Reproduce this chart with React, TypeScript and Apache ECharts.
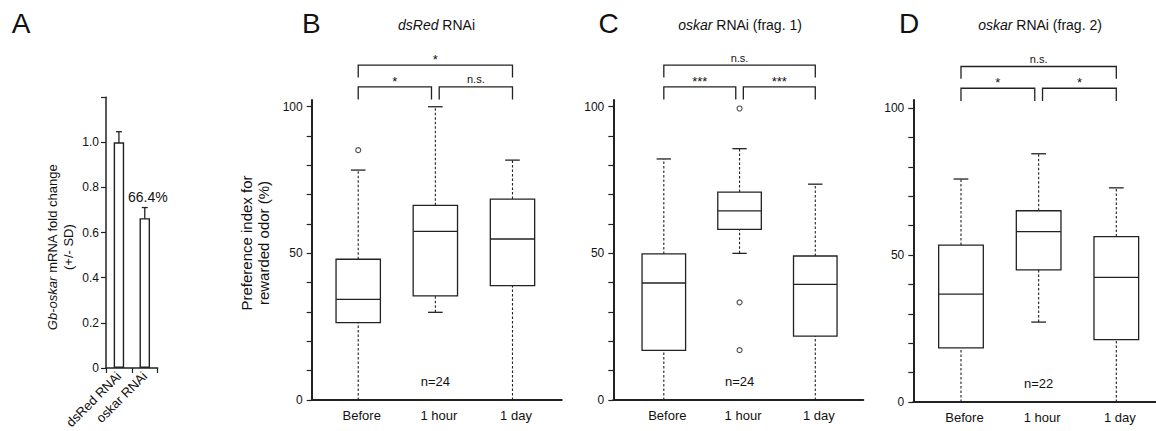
import React, { useEffect, useRef } from "react";
import * as echarts from "echarts";

const FONT = "'Liberation Sans', Arial, Helvetica, sans-serif";
const INK = "#111";
const LINE = "#222";

// Panel A
const barCategories = ["dsRed RNAi", "oskar RNAi"];
const barValues = [1.0, 0.664];
const barSD = [0.047, 0.047];

// Panels B-D
const timeCategories = ["Before", "1 hour", "1 day"];
// [low whisker, Q1, median, Q3, high whisker]
const boxB = [
  [0, 26.4, 34.3, 48.0, 78.4],
  [29.9, 35.5, 57.5, 66.4, 100],
  [0, 39.0, 54.9, 68.5, 81.8],
];
const outliersB = [[1, 85.2]];
const boxC = [
  [0, 16.9, 39.9, 49.8, 82.2],
  [50.0, 58.2, 64.5, 70.9, 85.7],
  [0, 21.8, 39.4, 49.1, 73.6],
];
const outliersC = [
  [2, 99.4],
  [2, 33.3],
  [2, 17.0],
];
const boxD = [
  [0, 18.4, 36.7, 53.4, 75.9],
  [27.2, 45.0, 58.0, 65.1, 84.5],
  [0, 21.2, 42.4, 56.3, 72.9],
];
const outliersD: number[][] = [];

// significance: [Before vs 1 hour, 1 hour vs 1 day, Before vs 1 day]
const sigB = ["*", "n.s.", "*"];
const sigC = ["***", "***", "n.s."];
const sigD = ["*", "*", "n.s."];
const nLabels = ["n=24", "n=24", "n=22"];

// bracket levels (in axis units): [horizontal, drop end]
const lowerBracket = [106.8, 102.5];
const upperBracket = [114.2, 110.0];
const nLabelLevel = 6.3;

const BOX_W = 0.575;
const CAP_W = 0.19;

function boxRender(params: any, api: any) {
  const x = api.value(0);
  const lo = api.value(1);
  const q1 = api.value(2);
  const md = api.value(3);
  const q3 = api.value(4);
  const hi = api.value(5);
  const w = api.size([BOX_W, 0])[0];
  const cw = api.size([CAP_W, 0])[0];
  const pLo = api.coord([x, lo]);
  const cx = pLo[0];
  const yLo = pLo[1];
  const yQ1 = api.coord([x, q1])[1];
  const yMd = api.coord([x, md])[1];
  const yQ3 = api.coord([x, q3])[1];
  const yHi = api.coord([x, hi])[1];
  const solid = { stroke: LINE, lineWidth: 1.3, fill: null };
  const dashed = { stroke: LINE, lineWidth: 1.1, lineDash: [2.5, 2], fill: null };
  return {
    type: "group",
    children: [
      { type: "line", shape: { x1: cx, y1: yLo, x2: cx, y2: yQ1 }, style: dashed },
      { type: "line", shape: { x1: cx, y1: yQ3, x2: cx, y2: yHi }, style: dashed },
      { type: "line", shape: { x1: cx - cw / 2, y1: yLo, x2: cx + cw / 2, y2: yLo }, style: solid },
      { type: "line", shape: { x1: cx - cw / 2, y1: yHi, x2: cx + cw / 2, y2: yHi }, style: solid },
      {
        type: "rect",
        shape: { x: cx - w / 2, y: yQ3, width: w, height: yQ1 - yQ3 },
        style: { stroke: LINE, lineWidth: 1.3, fill: "#fff" },
      },
      { type: "line", shape: { x1: cx - w / 2, y1: yMd, x2: cx + w / 2, y2: yMd }, style: solid },
    ],
  };
}

function bracketRender(labels: string[]) {
  return (params: any, api: any) => {
    const x1 = api.value(0);
    const x2 = api.value(1);
    const top = api.value(2);
    const drop = api.value(3);
    const a = api.coord([x1, drop]);
    const b = api.coord([x1, top]);
    const c = api.coord([x2, top]);
    const d = api.coord([x2, drop]);
    const txt = labels[params.dataIndex];
    const isStar = txt.indexOf("*") >= 0;
    return {
      type: "group",
      children: [
        {
          type: "polyline",
          shape: { points: [a, b, c, d] },
          style: { stroke: LINE, lineWidth: 1.3, fill: null },
        },
        {
          type: "text",
          x: (b[0] + c[0]) / 2,
          y: b[1] - (isStar ? -1 : 2),
          style: {
            text: txt,
            align: "center",
            verticalAlign: "bottom",
            textAlign: "center",
            textVerticalAlign: "bottom",
            fontSize: isStar ? 13 : 11,
            fontFamily: FONT,
            fill: INK,
          },
        },
      ],
    };
  };
}

function textRender(texts: string[]) {
  return (params: any, api: any) => {
    const p = api.coord([api.value(0), api.value(1)]);
    return {
      type: "text",
      x: p[0],
      y: p[1],
      style: {
        text: texts[params.dataIndex],
        align: "center",
        verticalAlign: "middle",
        textAlign: "center",
        textVerticalAlign: "middle",
        fontSize: 13,
        fontFamily: FONT,
        fill: INK,
      },
    };
  };
}

const GAP = 0.05;
function bracketData() {
  return [
    [1, 2 - GAP, lowerBracket[0], lowerBracket[1]],
    [2 + GAP, 3, lowerBracket[0], lowerBracket[1]],
    [1, 3, upperBracket[0], upperBracket[1]],
  ];
}

export default function App() {
  const ref = useRef<HTMLDivElement>(null);
  useEffect(() => {
    document.body.style.margin = "0";
    if (!ref.current) return;
    const chart = echarts.init(ref.current, undefined, { renderer: "svg" });

    const tickValues = [0, 10, 20, 30, 40, 50, 60, 70, 80, 90, 100];
    const yAxisBox = (gridIndex: number, max: number, name?: string) => ({
      type: "value",
      gridIndex,
      min: 0,
      max,
      splitLine: { show: false },
      axisLine: { show: true, lineStyle: { color: LINE, width: 2 } },
      axisTick: { show: true, length: 5, customValues: tickValues, lineStyle: { color: LINE, width: 1.2 } },
      axisLabel: {
        customValues: [0, 50, 100],
        margin: 9,
        fontSize: 12,
        fontFamily: FONT,
        color: INK,
      },
      name: name || "",
      nameLocation: "middle",
      nameRotate: 90,
      nameGap: 40,
      nameTextStyle: {
        fontSize: 15,
        fontFamily: FONT,
        color: INK,
        lineHeight: 17,
        padding: [0, 0, 0, 14],
      },
    });
    const xAxisBox = (gridIndex: number, min: number, max: number) => ({
      type: "value",
      gridIndex,
      min,
      max,
      splitLine: { show: false },
      axisLine: { show: true, onZero: false, lineStyle: { color: LINE, width: 2 } },
      axisTick: { show: false },
      axisLabel: {
        customValues: [1, 2, 3],
        formatter: (v: number) => timeCategories[Math.round(v) - 1] || "",
        margin: 9,
        fontSize: 13,
        fontFamily: FONT,
        color: INK,
        padding: [0, 0, 0, 7],
      },
    });

    const boxSeries = (idx: number, data: number[][], outliers: number[][], sig: string[], n: string) => [
      {
        type: "custom",
        xAxisIndex: idx,
        yAxisIndex: idx,
        renderItem: boxRender,
        encode: { x: 0, y: [1, 2, 3, 4, 5] },
        data: data.map((b, i) => [i + 1, ...b]),
        clip: false,
        silent: true,
      },
      {
        type: "scatter",
        xAxisIndex: idx,
        yAxisIndex: idx,
        symbol: "circle",
        symbolSize: 5,
        itemStyle: { color: "#fff", borderColor: LINE, borderWidth: 1.1 },
        data: outliers,
        silent: true,
      },
      {
        type: "custom",
        xAxisIndex: idx,
        yAxisIndex: idx,
        renderItem: bracketRender(sig),
        data: bracketData(),
        clip: false,
        silent: true,
      },
      {
        type: "custom",
        xAxisIndex: idx,
        yAxisIndex: idx,
        renderItem: textRender([n]),
        data: [[2, nLabelLevel]],
        clip: false,
        silent: true,
      },
    ];

    const letter = (text: string, x: number) => ({
      type: "text",
      x,
      y: 23,
      style: {
        text,
        fontSize: 28,
        fontFamily: FONT,
        fill: INK,
        align: "center",
        verticalAlign: "middle",
        textAlign: "center",
        textVerticalAlign: "middle",
      },
    });
    const title = (italic: string, rest: string, x: number) => ({
      type: "text",
      x,
      y: 25,
      style: {
        text: `{i|${italic}}${rest}`,
        fontSize: 14,
        fontFamily: FONT,
        fill: INK,
        align: "center",
        verticalAlign: "middle",
        textAlign: "center",
        textVerticalAlign: "middle",
        rich: {
          i: { fontStyle: "italic", fontSize: 14, fontFamily: FONT, fill: INK, color: INK },
        },
      },
    });

    const option: any = {
      animation: false,
      backgroundColor: "#fff",
      textStyle: { fontFamily: FONT },
      grid: [
        { left: 106, top: 97.2, width: 51.7, height: 270.8, outerBoundsMode: "none", containLabel: false },
        { left: 311.7, top: 100, width: 250, height: 300, outerBoundsMode: "none", containLabel: false },
        { left: 613.3, top: 100, width: 250, height: 300, outerBoundsMode: "none", containLabel: false },
        { left: 913.3, top: 100, width: 242.7, height: 302, outerBoundsMode: "none", containLabel: false },
      ],
      xAxis: [
        {
          type: "category",
          gridIndex: 0,
          data: barCategories,
          axisLine: { show: true, lineStyle: { color: LINE, width: 1.5 } },
          axisTick: { show: true, length: 5, alignWithLabel: false, lineStyle: { color: LINE, width: 1.2 } },
          axisLabel: {
            rotate: 45,
            margin: 6,
            fontSize: 13,
            fontFamily: FONT,
            color: INK,
            interval: 0,
          },
        },
        xAxisBox(1, 0.397, 3.638),
        xAxisBox(2, 0.333, 3.634),
        xAxisBox(3, 0.386, 3.511),
      ],
      yAxis: [
        {
          type: "value",
          gridIndex: 0,
          min: 0,
          max: 1.2,
          interval: 0.2,
          splitLine: { show: false },
          axisLine: { show: true, lineStyle: { color: LINE, width: 1.5 } },
          axisTick: { show: true, length: 5, lineStyle: { color: LINE, width: 1.2 } },
          axisLabel: {
            margin: 7,
            fontSize: 12,
            fontFamily: FONT,
            color: INK,
            formatter: (v: number) => (v > 1.1 ? "" : v === 0 ? "0" : v.toFixed(1)),
          },
          name: "{i|Gb-oskar} mRNA fold change\n(+/- SD)",
          nameLocation: "middle",
          nameRotate: 90,
          nameGap: 30,
          nameTextStyle: {
            fontSize: 13,
            fontFamily: FONT,
            color: INK,
            lineHeight: 16,
            padding: [0, 29, 0, 0],
            rich: {
              i: { fontStyle: "italic", fontSize: 13, fontFamily: FONT, color: INK, lineHeight: 16 },
            },
          },
        },
        yAxisBox(1, 102.3, "Preference index for\nrewarded odor (%)"),
        yAxisBox(2, 102.3),
        yAxisBox(3, 102.8),
      ],
      series: [
        {
          type: "bar",
          xAxisIndex: 0,
          yAxisIndex: 0,
          barWidth: 10.5,
          itemStyle: { color: "#fff", borderColor: LINE, borderWidth: 1.4 },
          data: barValues.map((v, i) =>
            i === 1
              ? {
                  value: v,
                  label: {
                    show: true,
                    position: "top",
                    distance: 14,
                    offset: [3, 0],
                    fontSize: 14,
                    fontFamily: FONT,
                    color: INK,
                    formatter: (p: any) => (p.value * 100).toFixed(1) + "%",
                  },
                }
              : { value: v }
          ),
          silent: true,
        },
        {
          type: "custom",
          xAxisIndex: 0,
          yAxisIndex: 0,
          clip: false,
          silent: true,
          data: barValues.map((v, i) => [i, v - barSD[i], v + barSD[i]]),
          encode: { x: 0, y: [1, 2] },
          renderItem: (params: any, api: any) => {
            const lo = api.coord([api.value(0), api.value(1)]);
            const hi = api.coord([api.value(0), api.value(2)]);
            const cw = 6;
            const st = { stroke: LINE, lineWidth: 1.3 };
            return {
              type: "group",
              children: [
                { type: "line", shape: { x1: lo[0], y1: lo[1], x2: hi[0], y2: hi[1] }, style: st },
                { type: "line", shape: { x1: lo[0] - cw / 2, y1: lo[1], x2: lo[0] + cw / 2, y2: lo[1] }, style: st },
                { type: "line", shape: { x1: hi[0] - cw / 2, y1: hi[1], x2: hi[0] + cw / 2, y2: hi[1] }, style: st },
              ],
            };
          },
        },
        ...boxSeries(1, boxB, outliersB, sigB, nLabels[0]),
        ...boxSeries(2, boxC, outliersC, sigC, nLabels[1]),
        ...boxSeries(3, boxD, outliersD, sigD, nLabels[2]),
      ],
      graphic: [
        letter("A", 21),
        letter("B", 311.3),
        letter("C", 608.7),
        letter("D", 909),
        title("dsRed", " RNAi", 436.5),
        title("oskar", " RNAi (frag. 1)", 740),
        title("oskar", " RNAi (frag. 2)", 1040),
      ],
    };
    chart.setOption(option);
    return () => chart.dispose();
  }, []);
  return <div ref={ref} style={{ width: 1156, height: 431 }} />;
}
